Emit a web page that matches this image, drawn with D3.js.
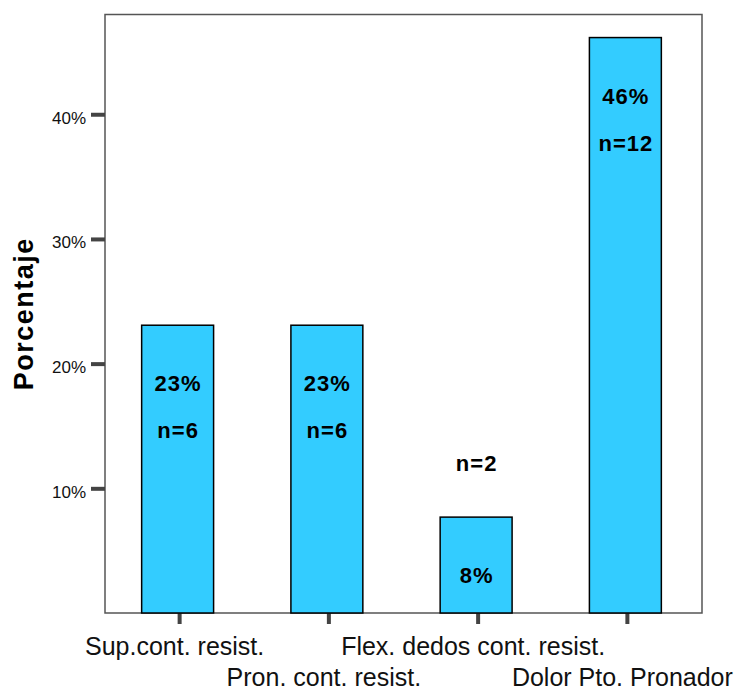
<!DOCTYPE html>
<html>
<head>
<meta charset="utf-8">
<script src="https://cdn.jsdelivr.net/npm/d3@7/dist/d3.min.js"></script>
<style>
  html, body { margin: 0; padding: 0; background: #fff; }
  svg { display: block; font-family: Arial, "Liberation Sans", Helvetica, sans-serif; }
</style>
</head>
<body>
<svg id="chart" width="741" height="692"></svg>
<script>
// Hallazgos clínicos: porcentaje de casos y número de pacientes
const categories = ["Sup.cont. resist.", "Pron. cont. resist.", "Flex. dedos cont. resist.", "Dolor Pto. Pronador"];
const percents = [23.08, 23.08, 7.69, 46.15];
const counts = [6, 6, 2, 12];
const yTicks = [10, 20, 30, 40];
const yTitle = "Porcentaje";

const svg = d3.select("#chart");
const plot = { left: 105, top: 14.5, right: 702, bottom: 613 };

const x = d3.scaleBand()
  .domain(categories)
  .range([plot.left, plot.right])
  .padding(0);

const y = d3.scaleLinear()
  .domain([0, 48])
  .range([plot.bottom, plot.top]);

const data = categories.map((c, i) => ({ cat: c, pct: percents[i], n: counts[i] }));

// Plot frame
svg.append("rect")
  .attr("x", plot.left)
  .attr("y", plot.top)
  .attr("width", plot.right - plot.left)
  .attr("height", plot.bottom - plot.top)
  .attr("fill", "none")
  .attr("stroke", "#555")
  .attr("stroke-width", 1.5);

// Y axis
const yAxis = svg.append("g")
  .attr("transform", `translate(${plot.left},0)`)
  .call(d3.axisLeft(y).tickValues(yTicks).tickSize(14).tickPadding(5).tickFormat(d => d + "%"));
yAxis.select(".domain").remove();
yAxis.selectAll(".tick line").attr("stroke", "#444").attr("stroke-width", 4);
yAxis.selectAll(".tick text")
  .attr("dy", "0.53em")
  .attr("fill", "#111")
  .style("font-size", "17px");

// X axis: labels alternate between two rows
const xAxis = svg.append("g")
  .attr("transform", `translate(0,${plot.bottom})`)
  .call(d3.axisBottom(x).tickSize(11).tickSizeOuter(0));
xAxis.select(".domain").remove();
xAxis.selectAll(".tick line").attr("stroke", "#444").attr("stroke-width", 4);
xAxis.selectAll(".tick text")
  .attr("dy", 0)
  .attr("x", -5)
  .attr("y", (d, i) => i % 2 === 0 ? 42 : 73)
  .attr("fill", "#111")
  .style("font-size", "25px");

// Bars
const barW = x.bandwidth() * 0.482;
const barX = d => x(d.cat) + x.bandwidth() / 2 - barW / 2 - 2;

svg.append("g").selectAll("rect")
  .data(data)
  .join("rect")
  .attr("x", barX)
  .attr("y", d => y(d.pct))
  .attr("width", barW)
  .attr("height", d => y(0) - y(d.pct))
  .attr("fill", "#33CCFF")
  .attr("stroke", "#000")
  .attr("stroke-width", 1.5);

// Value labels: percentage and count
const labels = svg.append("g")
  .attr("text-anchor", "middle")
  .style("font-size", "22px")
  .style("font-weight", "bold")
  .style("letter-spacing", "1px")
  .attr("fill", "#000");

const cx = d => barX(d) + barW / 2 + 0.5;

labels.selectAll("text.pct")
  .data(data)
  .join("text")
  .attr("class", "pct")
  .attr("x", cx)
  .attr("y", d => y(d.pct) + 66)
  .text(d => Math.round(d.pct) + "%");

labels.selectAll("text.n")
  .data(data)
  .join("text")
  .attr("class", "n")
  .attr("x", cx)
  .attr("y", d => {
    const inside = y(d.pct) + 113;
    return inside < plot.bottom - 10 ? inside : y(d.pct) - 46;
  })
  .text(d => "n=" + d.n);

// Y axis title
svg.append("text")
  .attr("transform", `translate(33,${(plot.top + plot.bottom) / 2}) rotate(-90)`)
  .attr("text-anchor", "middle")
  .style("font-size", "27px")
  .style("font-weight", "bold")
  .style("letter-spacing", "1.5px")
  .attr("fill", "#000")
  .text(yTitle);
</script>
</body>
</html>
